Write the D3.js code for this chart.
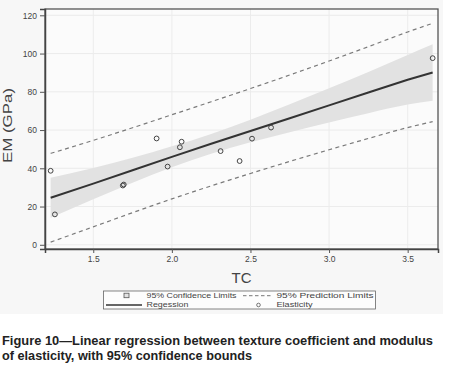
<!DOCTYPE html>
<html>
<head>
<meta charset="utf-8">
<script src="https://cdn.jsdelivr.net/npm/d3@7"></script>
<style>
  body { margin: 0; background: #ffffff; }
  svg { display: block; }
</style>
</head>
<body>
<svg id="chart" width="459" height="371"></svg>
<script>
// observed points (TC vs EM)
const tcValues = [1.229, 1.256, 1.688, 1.694, 1.903, 1.973, 2.051, 2.062, 2.31, 2.431, 2.51, 2.631, 3.659];
const emValues = [38.7, 15.9, 31.0, 31.5, 55.6, 40.9, 51.0, 53.9, 49.0, 43.8, 55.5, 61.3, 97.6];

// fitted line and bands, read along TC
const bandTC = [1.229, 1.5, 1.75, 2.0, 2.25, 2.5, 2.75, 3.0, 3.25, 3.5, 3.659];
const fitEM = [24.6, 32.0, 39.0, 46.0, 52.8, 59.5, 66.2, 72.9, 79.6, 86.3, 90.1];
const ciUpper = [35.1, 40.2, 45.5, 51.5, 58.0, 65.4, 73.5, 81.8, 90.4, 99.3, 104.9];
const ciLower = [14.1, 23.8, 32.5, 40.5, 47.6, 53.6, 58.9, 64.0, 68.8, 73.3, 75.3];
const piUpper = [47.8, 54.6, 61.2, 68.0, 74.8, 81.7, 88.8, 96.1, 103.6, 111.3, 115.8];
const piLower = [1.4, 9.4, 16.8, 24.0, 30.8, 37.3, 43.6, 49.7, 55.6, 61.3, 64.4];

const xTicks = [1.5, 2.0, 2.5, 3.0, 3.5];
const yTicks = [0, 20, 40, 60, 80, 100, 120];

const legendItems = ['95% Confidence Limits', '95% Prediction Limits', 'Regession', 'Elasticity'];
const captionLines = [
  'Figure 10\u2014Linear regression between texture coefficient and modulus',
  'of elasticity, with 95% confidence bounds'
];

const svg = d3.select('#chart');
const sans = '"Liberation Sans", Arial, sans-serif';
const plot = { left: 45, right: 438, top: 9, bottom: 249 };

const x = d3.scaleLinear().domain([1.193, 3.693]).range([plot.left, plot.right]);
const y = d3.scaleLinear().domain([-2.2, 123.3]).range([plot.bottom, plot.top]);

// figure background
svg.append('rect').attr('x', 0).attr('y', 0).attr('width', 443).attr('height', 314).attr('fill', '#f7f7f7');
svg.append('rect')
  .attr('x', plot.left).attr('y', plot.top)
  .attr('width', plot.right - plot.left).attr('height', plot.bottom - plot.top)
  .attr('fill', '#fbfbfb');

// grid
const grid = svg.append('g').attr('stroke', '#ececec').attr('stroke-width', 1);
grid.selectAll('.gx').data(xTicks).join('line')
  .attr('x1', (d) => x(d)).attr('x2', (d) => x(d))
  .attr('y1', plot.top).attr('y2', plot.bottom);
grid.selectAll('.gy').data(yTicks).join('line')
  .attr('x1', plot.left).attr('x2', plot.right)
  .attr('y1', (d) => y(d)).attr('y2', (d) => y(d));

const bandRows = bandTC.map((t, i) => ({
  t, fit: fitEM[i], cl: ciLower[i], cu: ciUpper[i], pl: piLower[i], pu: piUpper[i]
}));

// confidence band
svg.append('path')
  .datum(bandRows)
  .attr('fill', '#e2e2e2')
  .attr('d', d3.area().x((d) => x(d.t)).y0((d) => y(d.cl)).y1((d) => y(d.cu)).curve(d3.curveMonotoneX));

// prediction limits
['pu', 'pl'].forEach((k) => {
  svg.append('path')
    .datum(bandRows)
    .attr('fill', 'none')
    .attr('stroke', '#7a7a7a')
    .attr('stroke-width', 1.2)
    .attr('stroke-dasharray', '4,3.5')
    .attr('d', d3.line().x((d) => x(d.t)).y((d) => y(d[k])).curve(d3.curveMonotoneX));
});

// regression line
svg.append('path')
  .datum(bandRows)
  .attr('fill', 'none')
  .attr('stroke', '#333')
  .attr('stroke-width', 2)
  .attr('d', d3.line().x((d) => x(d.t)).y((d) => y(d.fit)));

// points
svg.append('g').selectAll('circle')
  .data(tcValues.map((t, i) => [t, emValues[i]]))
  .join('circle')
  .attr('cx', (d) => x(d[0]))
  .attr('cy', (d) => y(d[1]))
  .attr('r', 2.4)
  .attr('fill', 'none')
  .attr('stroke', '#444')
  .attr('stroke-width', 1);

// frame
svg.append('rect')
  .attr('x', plot.left).attr('y', plot.top)
  .attr('width', plot.right - plot.left).attr('height', plot.bottom - plot.top)
  .attr('fill', 'none').attr('stroke', '#555').attr('stroke-width', 1.3);

// axes
const xAxis = d3.axisBottom(x).tickValues(xTicks).tickFormat(d3.format('.1f')).tickSize(4).tickPadding(3);
const yAxis = d3.axisLeft(y).tickValues(yTicks).tickSize(5).tickPadding(3);

const gx = svg.append('g').attr('transform', `translate(0,${plot.bottom})`).call(xAxis);
const gy = svg.append('g').attr('transform', `translate(${plot.left},0)`).call(yAxis);
[gx, gy].forEach((g) => {
  g.select('.domain').attr('stroke', '#444').attr('stroke-width', 1.5);
  g.selectAll('.tick line').attr('stroke', '#555');
  g.selectAll('.tick text').attr('fill', '#444').style('font-family', sans).style('font-size', '8.5px');
});

// axis titles
svg.append('text')
  .attr('x', (plot.left + plot.right) / 2).attr('y', 283)
  .attr('text-anchor', 'middle')
  .attr('fill', '#444')
  .style('font-family', sans)
  .style('font-size', '15px')
  .text('TC');
svg.append('text')
  .attr('transform', `translate(12,163) rotate(-90)`)
  .attr('fill', '#444')
  .style('font-family', sans)
  .style('font-size', '12.5px')
  .attr('textLength', 75)
  .attr('lengthAdjust', 'spacingAndGlyphs')
  .text('EM (GPa)');

// legend
const lg = svg.append('g');
lg.append('rect').attr('x', 103.5).attr('y', 291).attr('width', 272).attr('height', 18)
  .attr('fill', '#fdfdfd').attr('stroke', '#666').attr('stroke-width', 0.8);
const legendPos = [[146.5, 298.3, 90], [276.5, 298.3, 97], [146.5, 307.3, 42], [276.5, 307.3, 36]];
lg.selectAll('text').data(legendItems).join('text')
  .attr('x', (d, i) => legendPos[i][0]).attr('y', (d, i) => legendPos[i][1])
  .attr('fill', '#444')
  .style('font-family', sans)
  .style('font-size', '7.5px')
  .attr('textLength', (d, i) => legendPos[i][2])
  .attr('lengthAdjust', 'spacingAndGlyphs')
  .text((d) => d);
lg.append('rect').attr('x', 124).attr('y', 293.2).attr('width', 5).attr('height', 4.5)
  .attr('fill', '#e2e2e2').attr('stroke', '#555').attr('stroke-width', 0.8);
lg.append('line').attr('x1', 243).attr('x2', 273).attr('y1', 295.7).attr('y2', 295.7)
  .attr('stroke', '#777').attr('stroke-width', 1).attr('stroke-dasharray', '3.5,2.5');
lg.append('line').attr('x1', 106).attr('x2', 142).attr('y1', 305).attr('y2', 305)
  .attr('stroke', '#333').attr('stroke-width', 1.3);
lg.append('circle').attr('cx', 258.5).attr('cy', 305).attr('r', 1.8)
  .attr('fill', 'none').attr('stroke', '#555').attr('stroke-width', 0.8);

// caption
svg.selectAll('.caption').data(captionLines).join('text')
  .attr('class', 'caption')
  .attr('x', 2).attr('y', (d, i) => 344.5 + i * 15)
  .attr('fill', '#222')
  .style('font-family', sans)
  .style('font-weight', 'bold')
  .style('font-size', '13.5px')
  .attr('textLength', (d, i) => (i === 0 ? 431 : 250))
  .attr('lengthAdjust', 'spacingAndGlyphs')
  .text((d) => d);
</script>
</body>
</html>
